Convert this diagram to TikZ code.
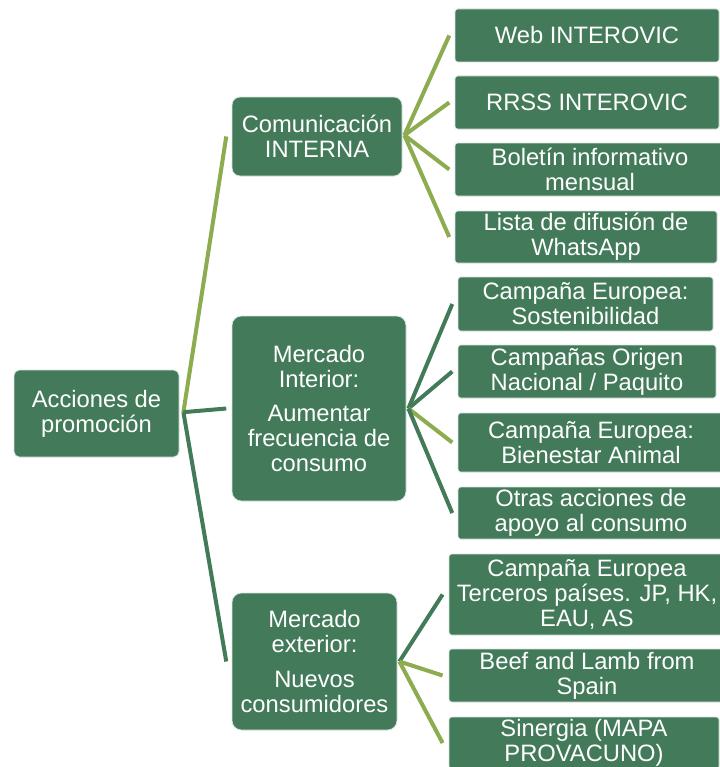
\documentclass[tikz,border=0pt]{standalone}
\usepackage{fontspec}
\setmainfont{Liberation Sans}
\definecolor{verde}{RGB}{67,122,89}
\definecolor{oliva}{RGB}{140,172,79}
\tikzset{
  caja/.style={rectangle, fill=verde, draw=white!80!verde, line width=0.6pt,
    text=white, align=center, inner sep=0pt,
    font=\fontsize{17.8}{18.7}\selectfont},
  tam/.style 2 args={minimum width=#1*0.75pt, minimum height=#2*0.75pt},
  rama/.style={draw=verde, line width=3pt},
  ramaclara/.style={draw=oliva, line width=3pt},
}
\begin{document}
\begin{tikzpicture}[x=0.75pt,y=-0.75pt]
    \clip (0,0) rectangle (720,767);
    \fill[white] (0,0) rectangle (720,767);
    % niveles
    \node[caja,tam={165}{87},rounded corners=4pt](raiz) at (96.5,413.5) {Acciones de\\promoción};
    \node[caja,tam={170}{79},rounded corners=6pt](com) at (317,136.5) {Comunicación\\INTERNA};
    \node[caja,tam={174}{185},rounded corners=7pt](inter) at (319,408.5)
        {Mercado\\Interior:\\[7pt]Aumentar\\frecuencia de\\consumo};
    \node[caja,tam={165}{137},rounded corners=7pt](ext) at (314.5,661.5)
        {Mercado\\exterior:\\[7pt]Nuevos\\consumidores};
    % hojas
    \node[caja,tam={264}{53},rounded corners=2pt](web) at (587,35.5) {Web INTEROVIC};
    \node[caja,tam={264}{53},rounded corners=2pt](rrss) at (587,102.5) {RRSS INTEROVIC};
    \node[caja,tam={270}{53},rounded corners=2pt](bol) at (590,169.5) {Boletín informativo\\mensual};
    \node[caja,tam={262}{52},rounded corners=2pt](lista) at (586,237) {Lista de difusión de\\WhatsApp};
    \node[caja,tam={255}{54},rounded corners=2pt](sost) at (585.5,304) {Campaña Europea:\\Sostenibilidad};
    \node[caja,tam={258}{53},rounded corners=2pt](orig) at (587,371.5) {Campañas Origen\\Nacional / Paquito};
    \node[caja,tam={266}{59},rounded corners=2pt](bien) at (591,442.5) {Campaña Europea:\\Bienestar Animal};
    \node[caja,tam={266}{52},rounded corners=2pt](otras) at (591,513) {Otras acciones de\\apoyo al consumo};
    \node[caja,tam={276}{81},rounded corners=2pt](terc) at (587,594.5)
        {Campaña Europea\\Terceros países. JP, HK,\\EAU, AS};
    \node[caja,tam={276}{53},rounded corners=2pt](beef) at (587,675.5) {Beef and Lamb from\\Spain};
    \node[caja,tam={270}{52},rounded corners=2pt](sin) at (584,743) {Sinergia (MAPA\\PROVACUNO)};
    % ramas
    \draw[ramaclara] ([xshift=3pt,yshift=1pt]raiz.east) -- ([xshift=-4pt]com.west);
    \draw[rama] ([xshift=3pt,yshift=1pt]raiz.east) -- ([xshift=-4pt]inter.west);
    \draw[rama] ([xshift=3pt,yshift=1pt]raiz.east) -- ([xshift=-4pt]ext.west);
    \draw[ramaclara] ([xshift=1.5pt,yshift=1pt]com.east) -- ([xshift=-4pt]web.west);
    \draw[ramaclara] ([xshift=1.5pt,yshift=1pt]com.east) -- ([xshift=-4pt]rrss.west);
    \draw[ramaclara] ([xshift=1.5pt,yshift=1pt]com.east) -- ([xshift=-4pt]bol.west);
    \draw[ramaclara] ([xshift=1.5pt,yshift=1pt]com.east) -- ([xshift=-4pt]lista.west);
    \draw[rama] ([xshift=1.5pt]inter.east) -- ([xshift=-4pt]sost.west);
    \draw[rama] ([xshift=1.5pt]inter.east) -- ([xshift=-4pt]orig.west);
    \draw[ramaclara] ([xshift=1.5pt]inter.east) -- ([xshift=-4pt]bien.west);
    \draw[rama] ([xshift=1.5pt]inter.east) -- ([xshift=-4pt]otras.west);
    \draw[rama] ([xshift=1.5pt]ext.east) -- ([xshift=-4.5pt]terc.west);
    \draw[ramaclara] ([xshift=1.5pt]ext.east) -- ([xshift=-4.5pt]beef.west);
    \draw[ramaclara] ([xshift=1.5pt]ext.east) -- ([xshift=-4.5pt]sin.west);
\end{tikzpicture}
\end{document}
